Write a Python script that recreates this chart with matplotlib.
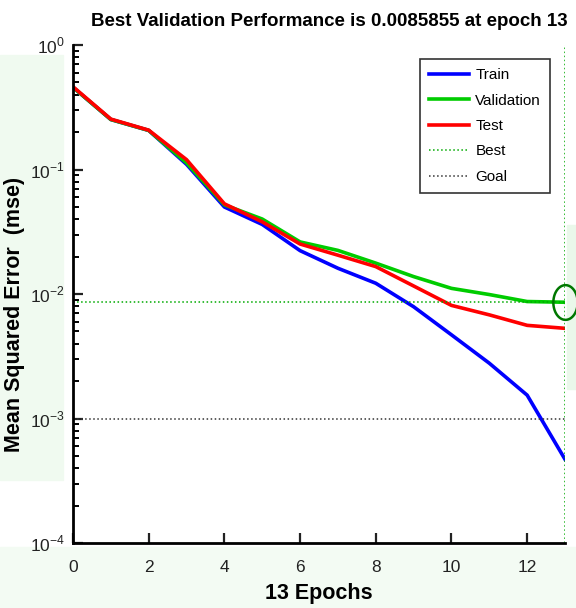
import numpy as np
import matplotlib.pyplot as plt
from matplotlib.path import Path
from matplotlib.patches import Rectangle
from matplotlib.ticker import FixedFormatter

plt.rcParams['font.family'] = ['Liberation Sans', 'DejaVu Sans']
plt.rcParams['mathtext.fontset'] = 'custom'
plt.rcParams['mathtext.rm'] = 'Liberation Sans'

# Training record (mse per epoch)
epochs = np.arange(14)
train = [0.457, 0.252, 0.206, 0.110, 0.050, 0.0362, 0.0223, 0.0161, 0.0122,
         0.0079, 0.0047, 0.00278, 0.00154, 0.00047]
validation = [0.457, 0.252, 0.206, 0.113, 0.052, 0.040, 0.0262, 0.0224, 0.0177,
              0.0138, 0.0111, 0.0099, 0.0087, 0.0085855]
test = [0.462, 0.254, 0.207, 0.120, 0.053, 0.038, 0.0252, 0.0205, 0.0166,
        0.0116, 0.0081, 0.0068, 0.0056, 0.0053]
best_epoch = 13
best_perf = 0.0085855
goal = 1e-3
ytick_vals = [1e-4, 1e-3, 1e-2, 1e-1, 1]
ytick_labels = ['$10^{-4}$', '$10^{-3}$', '$10^{-2}$', '$10^{-1}$', '$10^{0}$']

fig = plt.figure(figsize=(5.76, 6.08), dpi=100)

# faint green mosaic in the background of the original screenshot
bg = [(0.00, 0.21, 0.11, 0.70, '#f0faf0'), (0.00, 0.0, 1.0, 0.10, '#f3fbf3'),
      (0.985, 0.36, 0.015, 0.27, '#eaf8ea')]
for x0, y0, w, h, c in bg:
    fig.patches.append(Rectangle((x0, y0), w, h, transform=fig.transFigure,
                                 color=c, zorder=-10))

ax = fig.add_axes([73/576, 1 - 543/608, (565-73)/576, (543-45)/608])
ax.patch.set_alpha(0)

ax.semilogy(epochs, train, color='#0000ff', lw=2.6, label='Train')
ax.semilogy(epochs, validation, color='#00cc00', lw=2.6, label='Validation')
ax.semilogy(epochs, test, color='#ff0000', lw=2.6, label='Test')
ax.axvline(best_epoch, color='#00aa00', ls=':', lw=1.1)
ax.axhline(best_perf, color='#00aa00', ls=':', lw=1.1, label='Best')
ax.axhline(goal, color='#333333', ls=':', lw=1.1, label='Goal')

t = np.linspace(0, 2*np.pi, 60)
ell = Path(np.column_stack([0.7*np.cos(t), np.sin(t)]))
ax.plot([best_epoch], [best_perf], marker=ell, ms=25, mfc='none',
        mec='#007700', mew=1.8, clip_on=False)

ax.set_xlim(0, 13)
ax.set_ylim(1e-4, 1)
ax.set_xticks([0, 2, 4, 6, 8, 10, 12])
ax.set_yticks(ytick_vals)
ax.yaxis.set_major_formatter(FixedFormatter(ytick_labels))
for s in ['top', 'right']:
    ax.spines[s].set_visible(False)
for s in ['left', 'bottom']:
    ax.spines[s].set_linewidth(2)
ax.tick_params(which='major', direction='in', length=7, width=1.6,
               labelsize=12.5, colors='#222222', pad=6)
ax.tick_params(which='minor', direction='in', length=4, width=1.4)
ax.tick_params(axis='x', which='major', pad=12)

ax.set_title('Best Validation Performance is 0.0085855 at epoch 13',
             fontsize=13.5, fontweight='bold', pad=14, x=0.52)
ax.set_xlabel('13 Epochs', fontsize=15.5, fontweight='bold', labelpad=6)
ax.set_ylabel('Mean Squared Error  (mse)', fontsize=15.5, fontweight='bold')
ax.yaxis.set_label_coords(-0.097, 0.458)

leg = ax.legend(loc='upper right', bbox_to_anchor=(0.97, 0.972), fontsize=11,
                fancybox=False, edgecolor='#333333', framealpha=1,
                handlelength=2.6, handletextpad=0.4, borderpad=0.6,
                labelspacing=0.75, borderaxespad=0)
leg.get_frame().set_linewidth(1.2)

fig.savefig('out.png', dpi=100)
